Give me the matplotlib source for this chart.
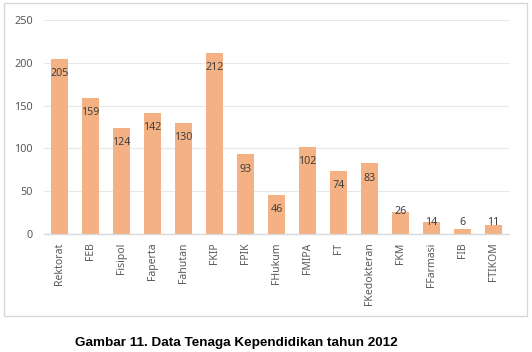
import matplotlib
matplotlib.use('Agg')
import matplotlib.pyplot as plt
from matplotlib.patches import Rectangle

units = ['Rektorat', 'FEB', 'Fisipol', 'Faperta', 'Fahutan', 'FKIP', 'FPIK',
         'FHukum', 'FMIPA', 'FT', 'FKedokteran', 'FKM', 'FFarmasi', 'FIB', 'FTIKOM']
staff = [205, 159, 124, 142, 130, 212, 93, 46, 102, 74, 83, 26, 14, 6, 11]
yticks = [0, 50, 100, 150, 200, 250]
caption = 'Gambar 11. Data Tenaga Kependidikan tahun 2012'

plt.rcParams['font.family'] = ['Noto Sans', 'DejaVu Sans']

fig = plt.figure(figsize=(5.32, 3.52), dpi=100)
ax = fig.add_axes([0.083, 0.335, 0.874, 0.608])

x = range(len(units))
ax.bar(x, staff, width=0.55, color='#F4B183', zorder=2)

# value labels near the top of each bar (Excel "inside end")
for i, v in enumerate(staff):
    if v > 40:
        y = v - 17.5
    else:
        y = max(v, 13.5)
    ax.text(i, y, str(v), ha='center', va='center', fontsize=7.7, color='#404040', zorder=3)

ax.set_ylim(0, 250)
ax.set_xlim(-0.5, len(units) - 0.5)
ax.set_yticks(yticks)
ax.set_xticks(list(x))
ax.set_xticklabels(units, rotation=90)
ax.tick_params(axis='both', length=0, labelsize=7.5, labelcolor='#595959')
ax.tick_params(axis='x', pad=6)
ax.tick_params(axis='y', labelsize=7.8, pad=8)
ax.grid(axis='y', color='#E8E8E8', linewidth=0.8, zorder=0)
for s in ['top', 'right', 'left']:
    ax.spines[s].set_visible(False)
ax.spines['bottom'].set_color('#D9D9D9')
ax.spines['bottom'].set_linewidth(1)

# chart border
fig.patches.append(Rectangle((0.0075, 0.102), 0.983, 0.889, transform=fig.transFigure,
                             fill=False, edgecolor='#D9D9D9', linewidth=1))

fig.text(0.444, 0.026, caption, ha='center', va='center', fontsize=9.7,
         fontweight='bold', family='Liberation Sans', color='#000000')

fig.savefig('out.png', dpi=100)
